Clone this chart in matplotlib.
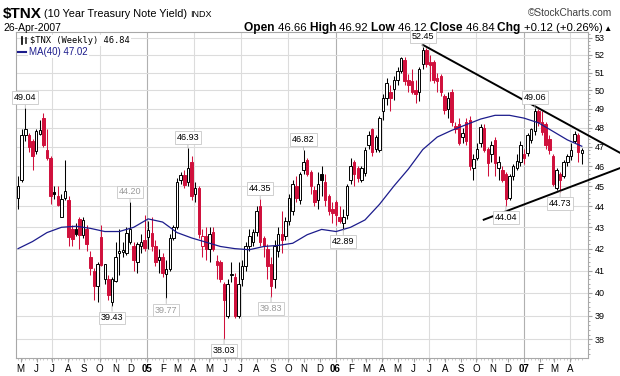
import numpy as np
import pandas as pd
import matplotlib
matplotlib.use('Agg')
import matplotlib.pyplot as plt
import matplotlib.dates as mdates
from matplotlib.patches import Rectangle
from matplotlib.ticker import FixedLocator, FormatStrFormatter, NullFormatter

# weekly candles of $TNX (yield x10), one per week starting monday
first_week = '2004-04-26'
last_date = '26-Apr-2007'
opens = [44.4, 45.3, 47.6, 47.6, 47.3, 46.75, 47.65, 48.5, 46.85, 46.4,
         44.7, 44.5, 43.5, 44.4, 44.3, 42.9, 42.9, 43.4, 42.65, 42.9,
         41.6, 41.0, 40.3, 42.55, 40.6, 40.6, 39.6, 40.55, 41.8, 41.85,
         41.8, 42.3, 42.1, 41.4, 42.1, 42.4, 42.55, 42.75, 42.1, 41.5,
         41.6, 40.85, 41.05, 42.5, 43.0, 45.3, 45.55, 45.2, 46.2, 44.6,
         44.9, 42.1, 42.6, 42.0, 42.8, 41.45, 41.4, 40.4, 39.0, 40.8,
         40.7, 39.0, 40.6, 41.2, 42.1, 42.3, 42.8, 44.0, 42.5, 42.0,
         41.3, 40.6, 41.9, 42.7, 42.6, 43.3, 43.8, 45.0, 44.3, 45.8,
         46.3, 45.7, 44.8, 44.3, 45.6, 45.2, 44.5, 43.9, 44.2, 43.5,
         43.2, 43.6, 45.3, 46.2, 45.9, 45.3, 45.65, 47.1, 47.9, 46.9,
         46.85, 48.9, 49.6, 49.9, 50.1, 50.6, 51.1, 51.7, 50.6, 50.5,
         50.0, 49.9, 51.5, 52.3, 51.6, 51.6, 50.7, 50.8, 49.7, 49.0,
         49.9, 48.1, 48.2, 47.5, 48.3, 48.4, 45.9, 46.4, 47.2, 48.0,
         46.9, 46.6, 47.35, 45.9, 45.8, 45.6, 44.4, 45.5, 45.9, 46.2,
         46.6, 46.65, 47.35, 47.8, 48.9, 48.3, 48.2, 47.4, 46.5, 44.9,
         45.6, 45.5, 46.2, 46.5, 47.3, 47.6, 46.66]
highs = [45.5, 47.9, 49.04, 47.7, 47.4, 47.9, 48.4, 48.8, 47.9, 46.5,
         45.0, 45.0, 44.6, 46.3, 44.5, 43.1, 43.2, 43.5, 43.5, 43.1,
         41.9, 41.1, 41.4, 43.1, 41.2, 40.8, 40.7, 42.3, 42.9, 42.3,
         43.0, 44.2, 42.3, 42.3, 42.7, 43.6, 43.3, 43.5, 42.4, 42.0,
         41.8, 41.5, 42.7, 43.1, 45.4, 45.7, 45.8, 46.93, 46.5, 45.2,
         45.0, 42.9, 43.0, 43.0, 43.0, 41.7, 41.5, 40.5, 40.6, 41.4,
         40.9, 41.4, 41.5, 42.3, 42.9, 42.9, 44.0, 44.35, 42.6, 42.2,
         41.6, 42.4, 43.0, 43.8, 43.5, 44.6, 45.3, 45.5, 45.7, 46.82,
         46.4, 45.8, 45.0, 45.7, 46.0, 45.6, 44.6, 44.2, 44.3, 44.0,
         43.9, 45.1, 46.4, 46.3, 46.0, 46.0, 47.0, 47.8, 48.0, 47.6,
         48.6, 49.8, 50.7, 50.3, 50.8, 51.3, 51.9, 51.9, 50.9, 51.2,
         50.6, 51.3, 52.45, 52.4, 52.0, 51.7, 51.0, 50.9, 49.8, 49.9,
         50.1, 48.3, 48.5, 48.0, 48.5, 48.6, 46.6, 47.2, 48.2, 48.2,
         47.0, 47.3, 47.5, 46.5, 46.0, 45.7, 45.6, 46.1, 46.6, 47.3,
         46.9, 47.7, 48.0, 49.06, 49.0, 48.9, 48.3, 47.6, 46.6, 45.9,
         45.7, 46.3, 46.6, 47.2, 47.8, 47.7, 46.92]
lows = [43.9, 45.2, 47.3, 46.7, 45.8, 46.6, 47.6, 47.0, 46.3, 44.1,
        44.35, 44.0, 43.5, 44.3, 42.1, 42.1, 42.6, 42.0, 42.5, 41.9,
        40.8, 39.7, 39.6, 41.2, 40.4, 39.7, 39.43, 40.5, 40.8, 41.6,
        41.7, 42.2, 41.0, 40.9, 41.8, 41.9, 42.0, 41.9, 41.2, 40.9,
        40.7, 39.77, 41.0, 42.4, 42.9, 45.1, 44.9, 45.0, 44.3, 44.2,
        42.5, 41.6, 41.5, 41.4, 41.9, 40.6, 40.5, 38.03, 38.9, 40.5,
        38.9, 38.9, 40.3, 41.0, 41.9, 42.1, 42.6, 42.1, 41.6, 40.6,
        39.83, 40.2, 41.6, 41.8, 42.4, 43.1, 43.6, 44.2, 44.1, 45.6,
        45.5, 44.6, 44.0, 43.9, 44.5, 44.0, 43.6, 43.2, 43.1, 43.2,
        42.89, 43.4, 45.1, 45.0, 45.2, 45.2, 45.5, 46.9, 46.5, 46.7,
        46.7, 48.4, 49.2, 48.9, 49.5, 50.3, 51.0, 50.3, 49.9, 49.8,
        49.3, 49.4, 51.2, 51.3, 50.5, 50.4, 49.9, 49.7, 48.7, 48.5,
        48.1, 47.7, 47.1, 47.2, 47.1, 45.8, 45.3, 46.3, 47.0, 46.7,
        45.5, 46.2, 45.5, 45.3, 45.2, 44.04, 44.3, 45.3, 45.8, 46.0,
        46.1, 46.5, 47.2, 47.6, 48.1, 47.6, 46.9, 46.6, 45.0, 44.8,
        44.73, 45.4, 46.0, 46.3, 47.2, 46.2, 46.12]
closes = [45.0, 47.6, 47.9, 47.0, 46.5, 47.8, 47.85, 47.1, 46.4, 44.5,
          44.6, 44.05, 44.35, 44.75, 42.55, 42.45, 42.7, 42.65, 43.35, 42.2,
          41.1, 40.3, 41.3, 41.25, 41.3, 39.9, 40.6, 41.6, 41.9, 41.95,
          42.75, 42.9, 41.5, 42.2, 42.3, 42.05, 42.85, 42.1, 41.4, 41.6,
          40.9, 41.05, 42.5, 43.0, 45.2, 45.55, 45.05, 45.9, 44.5, 44.9,
          42.7, 42.6, 42.0, 42.7, 42.0, 41.25, 40.6, 39.7, 40.4, 40.85,
          39.0, 40.4, 41.2, 42.1, 42.6, 42.8, 43.8, 42.3, 42.1, 41.2,
          40.3, 42.1, 42.7, 42.4, 43.3, 44.4, 45.1, 44.4, 45.6, 46.2,
          45.6, 45.0, 44.2, 45.1, 45.3, 44.3, 43.8, 43.7, 43.6, 43.3,
          43.5, 45.0, 46.0, 45.6, 45.4, 45.9, 46.85, 47.6, 46.7, 47.5,
          48.5, 49.6, 50.4, 49.6, 50.6, 51.1, 51.8, 50.5, 50.3, 49.9,
          49.8, 51.2, 52.3, 51.5, 51.4, 50.6, 50.5, 49.9, 48.95, 49.6,
          48.3, 47.9, 47.2, 47.7, 47.3, 46.0, 46.35, 46.9, 48.05, 46.8,
          46.15, 47.1, 46.15, 46.2, 45.3, 44.35, 45.5, 46.0, 46.25, 47.1,
          46.4, 47.6, 47.9, 48.9, 48.3, 47.75, 47.1, 46.8, 45.1, 45.8,
          45.3, 46.2, 46.5, 46.85, 47.65, 46.72, 46.84]

ma_step = 4
ma40 = [42.0, 42.33, 42.75, 43.0, 43.05, 42.95, 42.8, 42.8, 43.0, 43.4,
        43.25, 42.75, 42.5, 42.3, 42.1, 42.0, 41.95, 42.1, 42.15, 42.25,
        42.65, 42.9, 42.8, 43.0, 43.35, 44.1, 45.0, 45.85, 46.85, 47.5,
        47.85, 48.15, 48.45, 48.65, 48.65, 48.5, 48.25, 47.8, 47.35, 47.02]

# labelled highs / lows (week index, H or L)
marked = [(2, 'H'), (26, 'L'), (31, 'H'), (41, 'L'), (47, 'H'), (57, 'L'),
          (67, 'H'), (70, 'L'), (79, 'H'), (90, 'L'), (112, 'H'), (135, 'L'),
          (143, 'H'), (150, 'L')]
faded = [31, 41, 70]

# hand drawn trend lines (date, value)
trend_upper = [('2006-06-19', 52.58), ('2007-07-06', 46.68)]
trend_lower = [('2006-10-15', 43.36), ('2007-07-06', 45.90)]

RED = '#d0103c'
NAVY = '#1c1c8c'
GRID = '#dcdcdc'
plt.rcParams['font.family'] = ['Liberation Sans', 'DejaVu Sans']

weeks = pd.date_range(first_week, periods=len(closes), freq='7D')
x = mdates.date2num(weeks)
o = np.array(opens); h = np.array(highs); l = np.array(lows); c = np.array(closes)
prev = np.r_[c[0], c[:-1]]

fig = plt.figure(figsize=(6.2, 3.76), dpi=100)
ax = fig.add_axes([16/620, 18/376, 572/620, 326/376])
ax.set_yscale('log')
ax.set_ylim(37.23, 53.33)
ax.set_xlim(mdates.date2num(pd.Timestamp('2004-04-22')), mdates.date2num(pd.Timestamp('2007-05-05')))

# grid
ax.yaxis.set_major_locator(FixedLocator(range(38, 54)))
ax.yaxis.set_major_formatter(FormatStrFormatter('%d'))
ax.yaxis.set_minor_locator(FixedLocator([v for v in np.arange(37.4, 53.3, 0.2) if abs(v - round(v)) > 0.05]))
ax.yaxis.set_minor_formatter(NullFormatter())
ax.yaxis.grid(True, which='major', color=GRID, lw=0.8, zorder=0)
months = pd.date_range('2004-05-01', '2007-04-01', freq='MS')
for m in months:
    if m.month in (1, 4, 7, 10):
        ax.axvline(mdates.date2num(m), color='#b0b0b0' if m.month == 1 else GRID, lw=0.8, zorder=0)
ax.set_axisbelow(True)

# candles
for i in range(len(c)):
    col = RED if c[i] < prev[i] else 'black'
    ax.vlines(x[i], l[i], h[i], color=col, lw=0.75, zorder=2)
    lo, hi = min(o[i], c[i]), max(o[i], c[i])
    fill = col if c[i] < o[i] else 'white'
    ax.add_patch(Rectangle((x[i] - 2.4, lo), 4.8, max(hi - lo, 0.03), facecolor=fill,
                           edgecolor=col, lw=0.7, zorder=3))

# moving average
ax.plot(x[::ma_step], ma40, color=NAVY, lw=0.9, zorder=4)

# trend lines
for line in (trend_upper, trend_lower):
    tx = [mdates.date2num(pd.Timestamp(d)) for d, v in line]
    ty = [v for d, v in line]
    ax.plot(tx, ty, color='black', lw=1.4, clip_on=False, zorder=6)

# labels on highs and lows
for i, kind in marked:
    v = h[i] if kind == 'H' else l[i]
    dy = 10.5 if kind == 'H' else -12
    tc = '#9a9a9a' if i in faded else 'black'
    ax.annotate(f'{v:.2f}', xy=(x[i], v), xytext=(0, dy), textcoords='offset pixels',
                ha='center', va='center', fontsize=6.5, color=tc,
                bbox=dict(boxstyle='square,pad=0.2', fc='white', ec='#c8c8c8', lw=0.6),
                arrowprops=dict(arrowstyle='-', color='#b8b8b8', lw=0.6, shrinkA=0, shrinkB=0),
                zorder=7)

# axes styling
for s in ax.spines.values():
    s.set_color('#a8a8a8')
    s.set_linewidth(0.8)
ax.yaxis.tick_right()
ax.tick_params(axis='y', which='major', labelsize=6.5, length=3, pad=2, color='#a0a0a0')
ax.tick_params(axis='y', which='minor', length=1.5, color='#a0a0a0')
ax.set_xticks(mdates.date2num(months))
ax.set_xticklabels([f'{m.year % 100:02d}' if m.month == 1 else m.strftime('%b')[0] for m in months])
for lab, m in zip(ax.get_xticklabels(), months):
    if m.month == 1:
        lab.set_fontweight('bold')
        lab.set_fontsize(8)
ax.tick_params(axis='x', which='major', labelsize=7, length=3, pad=1.5, color='#a0a0a0')
ax.set_xticks(x, minor=True)
ax.tick_params(axis='x', which='minor', length=1.2, color='#c0c0c0')

# legend
ax.text(14 / 572, 0.975, f'$TNX (Weekly) {c[-1]:.2f}', transform=ax.transAxes,
        fontsize=6.3, family='DejaVu Sans Mono', va='center', ha='left',
        bbox=dict(fc='white', ec='none', pad=0.6), zorder=8)
ax.add_patch(Rectangle((4.5 / 572, 0.962), 1.5 / 572, 0.026, transform=ax.transAxes,
                       fc='black', ec='black', lw=0.5, zorder=9))
ax.add_patch(Rectangle((8.5 / 572, 0.966), 1.5 / 572, 0.018, transform=ax.transAxes,
                       fc='white', ec='black', lw=0.5, zorder=9))
ax.plot([2 / 572, 10 / 572], [0.939, 0.939], transform=ax.transAxes, color=NAVY, lw=1.5, zorder=9)
ax.text(13 / 572, 0.939, f'MA(40) {ma40[-1]:.2f}', transform=ax.transAxes, fontsize=7,
        color=NAVY, va='center', ha='left', bbox=dict(fc='white', ec='none', pad=0.6), zorder=8)

# header, pieces laid out one after another
fig.canvas.draw()
r = fig.canvas.get_renderer()

t = fig.text(3 / 620, 1 - 18 / 376, '$TNX', fontsize=11, fontweight='bold', va='baseline')
xpos = t.get_window_extent(r).x1 + 2
t = fig.text(xpos / 620, 1 - 17 / 376, '(10 Year Treasury Note Yield)', fontsize=7.8, va='baseline')
xpos = t.get_window_extent(r).x1 + 3
fig.text(xpos / 620, 1 - 17 / 376, 'INDX', fontsize=6.5, va='baseline')
fig.text(612 / 620, 1 - 16 / 376, '\u00a9StockCharts.com', fontsize=7.3, va='baseline', ha='right', color='#404040')
fig.text(3 / 620, 1 - 31 / 376, last_date, fontsize=7.5, va='baseline')

chg = c[-1] - c[-2]
pieces = [('Open ', 'bold'), (f'{o[-1]:.2f} ', 'normal'), ('High ', 'bold'), (f'{h[-1]:.2f} ', 'normal'),
          ('Low ', 'bold'), (f'{l[-1]:.2f} ', 'normal'), ('Close ', 'bold'), (f'{c[-1]:.2f} ', 'normal'),
          ('Chg ', 'bold'), (f'{chg:+.2f} ({chg / c[-2] * 100:+.2f}%)', 'normal')]
t = fig.text(612 / 620, 1 - 31 / 376, '\u25b2', fontsize=6, ha='right', va='baseline')
xpos = t.get_window_extent(r).x0 - 1
for txt, wt in reversed(pieces):
    t = fig.text(xpos / 620, 1 - 31 / 376, txt, fontsize=8.6 if wt == 'bold' else 8.2,
                 fontweight=wt, ha='right', va='baseline')
    xpos = t.get_window_extent(r).x0

fig.savefig('out.png', dpi=100)
